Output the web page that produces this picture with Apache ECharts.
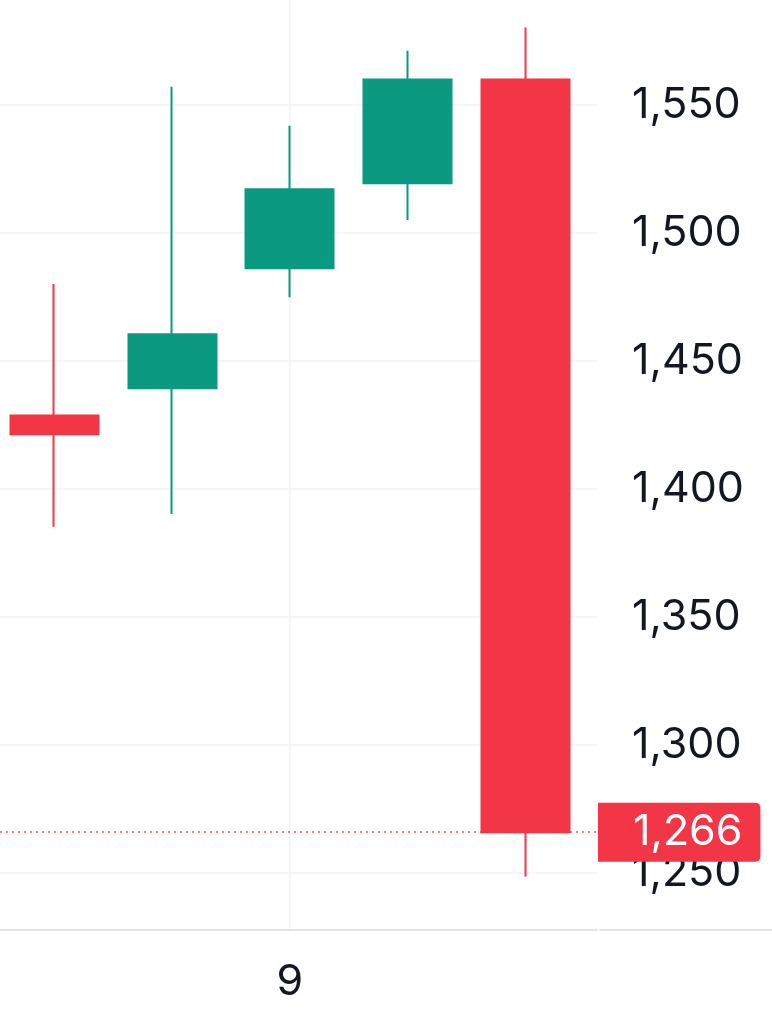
<!DOCTYPE html>
<html><head><meta charset="utf-8">
<script src="https://cdn.jsdelivr.net/npm/echarts@6/dist/echarts.min.js"></script>
<style>html,body{margin:0;padding:0;background:#fff}#c{width:772px;height:1022px}</style>
</head><body><div id="c"></div>
<script>
// ---- data ----
const xLabels = ['', '', '9', '', ''];
const xTickIndex = [2];
const opens  = [1428.7, 1439.4, 1486.2, 1519.4, 1560.0];
const closes = [1421.4, 1460.5, 1517.1, 1560.0, 1266.0];
const lows   = [1385.3, 1390.3, 1474.9, 1505.1, 1248.7];
const highs  = [1480.1, 1557.1, 1541.9, 1571.2, 1580.3];
const yTicks = [1250, 1300, 1350, 1400, 1450, 1500, 1550];
const lastPrice = 1266;

const UP = '#0c9981', DOWN = '#F23645';
const FONT = 'Inter';
const fmt = v => Number(v).toLocaleString('en-US');

const candles = opens.map((o, i) => [i, o, closes[i], lows[i], highs[i]]);

const chart = echarts.init(document.getElementById('c'), null, {renderer: 'canvas'});
chart.setOption({
  animation: false,
  backgroundColor: '#ffffff',
  grid: [
    {left: 0, right: 175, top: 0, bottom: 92.7},
    {left: 600, right: 0, top: 0, bottom: 92.7}
  ],
  xAxis: [{
    type: 'value', gridIndex: 0,
    min: -0.459, max: 4.605,
    axisLine: {show: true, lineStyle: {color: '#e0e3eb', width: 2}},
    axisTick: {show: false, customValues: xTickIndex},
    axisLabel: {
      customValues: xTickIndex,
      formatter: v => xLabels[Math.round(v)] || '',
      color: '#131722', fontSize: 43, fontFamily: FONT, margin: 31
    },
    splitLine: {show: true, lineStyle: {color: '#f0f3fa', width: 1.5}}
  }, {
    type: 'value', gridIndex: 1, min: 0, max: 1,
    axisLine: {show: true, lineStyle: {color: '#e0e3eb', width: 2}},
    axisTick: {show: false}, axisLabel: {show: false}, splitLine: {show: false}
  }],
  yAxis: [{
    type: 'value', gridIndex: 0, position: 'right',
    min: 1228.1, max: 1591.0,
    axisLine: {show: false},
    axisTick: {show: false, customValues: yTicks},
    axisLabel: {
      customValues: yTicks,
      formatter: v => fmt(v),
      color: '#131722', fontSize: 43, fontFamily: FONT, margin: 35
    },
    splitLine: {show: true, lineStyle: {color: '#f0f3fa', width: 1.5}}
  }, {
    type: 'value', gridIndex: 1, show: false, min: 0, max: 1
  }],
  series: [{
    type: 'candlestick',
    xAxisIndex: 0, yAxisIndex: 0,
    encode: {x: 0, y: [1, 2, 3, 4]},
    data: candles,
    barWidth: 88.5,
    itemStyle: {
      color: UP, color0: DOWN,
      borderColor: UP, borderColor0: DOWN,
      borderWidth: 2
    },
    markLine: {
      silent: true,
      symbol: ['none', 'none'],
      animation: false,
      lineStyle: {color: 'rgba(242,54,69,0.85)', type: [2, 4], width: 1.5},
      label: {
        show: true, position: 'end', distance: 1,
        formatter: () => fmt(lastPrice),
        backgroundColor: DOWN, color: '#ffffff',
        fontSize: 43, fontFamily: FONT,
        padding: [8, 18, 8, 35], borderRadius: [0, 5, 5, 0]
      },
      emphasis: {disabled: true},
      data: [{yAxis: lastPrice}]
    }
  }]
});
</script>
</body></html>
